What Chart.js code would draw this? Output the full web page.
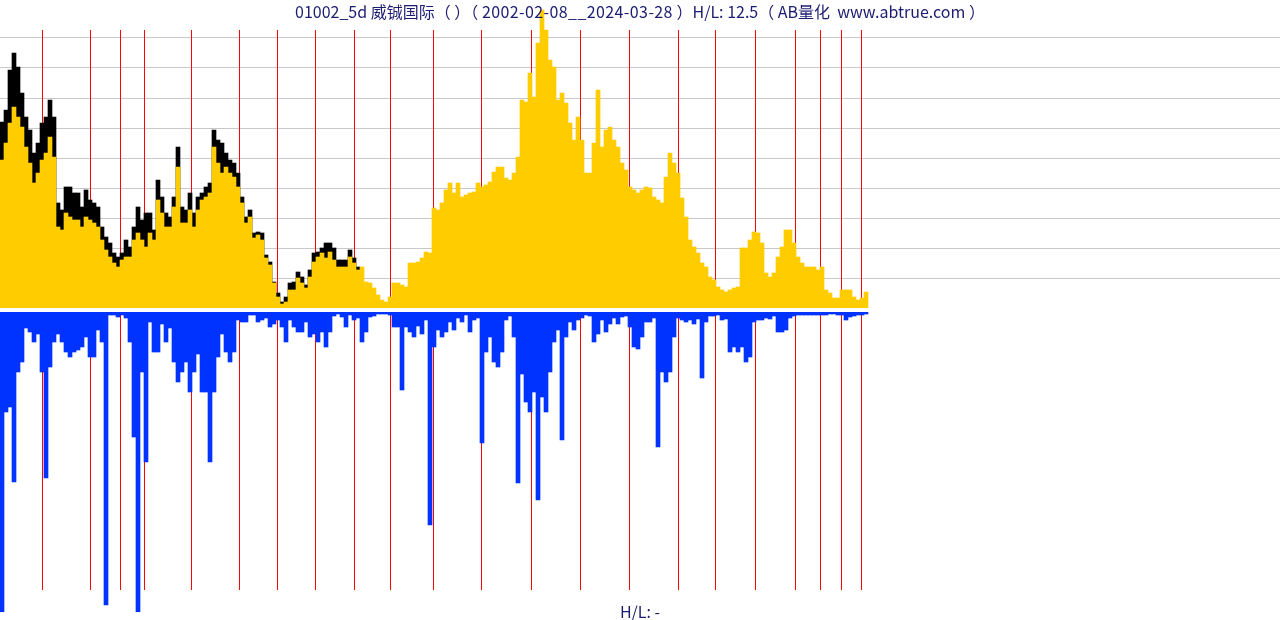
<!DOCTYPE html>
<html><head><meta charset="utf-8">
<script src="https://cdn.jsdelivr.net/npm/chart.js@4.4.1/dist/chart.umd.min.js"></script>
<style>
html,body{margin:0;padding:0;background:#fff;width:1280px;height:620px;overflow:hidden;}
#wrap{position:relative;width:1280px;height:620px;}
#top{position:absolute;left:0;top:0;}
#bot{position:absolute;left:0;top:312px;}
.t{position:absolute;left:0;width:1280px;text-align:center;font-family:"Noto Sans CJK SC","Noto Sans",sans-serif;font-size:16px;line-height:20px;color:#1c1c70;white-space:pre;}
.ls{letter-spacing:0.4px;}
</style></head>
<body><div id="wrap">
<canvas id="top" width="1280" height="308"></canvas>
<canvas id="bot" width="1280" height="300"></canvas>
<div class="t" id="title" style="top:1px;">01002_5d 威铖国际（ ）（ <span class="ls">2002-02-08__2024-03-28</span> ）H/L: 12.5（ AB量化  www.abtrue.com ）</div>
<div class="t" id="foot" style="top:601px;">H/L: -</div>
</div>
<script>
// ---- data (one value per 4px slot) ----
const CLOSE = [
148,165,185,201,191,181,161,145,125,135,
148,155,171,151,81,78,95,91,88,88,
81,91,88,85,81,68,58,51,45,41,
48,51,51,68,75,68,61,75,68,108,
95,81,81,101,141,85,85,98,81,98,
108,111,115,161,145,135,141,135,131,121,
105,85,91,70,73,68,50,43,25,11,
4,6,18,18,30,25,20,31,46,51,
55,50,56,48,41,41,41,51,45,38,
41,26,25,20,13,8,6,11,25,25,
23,21,45,45,46,50,56,55,100,98,
105,118,125,115,125,111,113,115,116,125,
121,123,126,136,141,141,130,128,135,151,
208,206,235,211,265,298,278,248,241,208,
215,205,185,168,191,168,135,135,165,218,
161,178,181,168,161,145,138,121,118,115,
118,121,120,111,108,105,131,155,145,135,
110,91,68,61,55,45,41,31,28,21,
18,16,18,20,21,60,60,68,76,75,
65,35,31,35,51,61,78,78,65,51,
45,41,41,41,38,41,18,15,10,10,
18,18,18,11,8,10,16];
const HIGH = [
186,198,238,255,241,215,191,178,155,165,
185,191,208,191,105,98,121,121,115,115,
101,118,108,105,101,81,71,65,55,51,
55,68,61,81,101,88,95,95,78,128,
111,95,91,111,161,101,98,115,95,111,
115,121,125,178,168,165,155,148,145,135,
111,91,98,75,76,75,53,46,26,15,
6,11,25,26,36,31,23,38,55,56,
60,65,65,60,48,48,48,58,50,41];
const VOLUME = [
300,100,95,170,60,50,16,20,30,22,
60,166,55,30,22,30,40,45,40,38,
35,25,45,45,18,30,293,3,3,5,
3,6,30,125,300,60,150,10,40,40,
12,30,16,50,70,60,50,80,60,42,
80,80,150,80,45,22,40,50,40,8,
10,10,3,3,10,8,6,15,12,8,
15,30,8,15,20,20,10,25,22,30,
20,35,20,4,2,5,15,3,8,6,
30,20,5,4,2,2,2,3,15,15,
78,15,20,25,14,22,8,213,35,18,
25,20,10,18,6,10,3,20,8,6,
131,40,25,50,55,40,8,4,25,171,
62,90,100,80,188,85,100,60,30,18,
128,25,10,18,8,6,3,4,30,22,
8,20,12,6,12,5,4,15,35,37,
25,10,10,6,135,60,70,60,25,6,
8,10,8,12,7,66,10,4,4,3,
8,7,40,35,40,35,50,45,10,8,
8,6,7,4,20,20,18,6,4,3,
3,3,3,3,3,3,3,2,2,3,
3,8,5,4,3,3,2];
// first bar of each calendar year (bar index on the same axis)
const YEAR_MARKS = [10,22,29.5,35.5,47.25,59.25,68.75,78.25,88,97,107.75,119.75,132.25,144.5,156.75,169,178.25,188.25,198.25,204.5,209.75,214.75];
const GRID_TICKS = [30,60,90,120,150,180,210,240,270];
const SLOTS = 320;
const LABELS = Array.from({length: SLOTS}, (_, i) => i);

const GOLD = '#ffcc00', BLUE = '#0033ff', MARK = '#ff0000';

function yearLines(fromVal, toVal) {
  return {
    id: 'yearLines',
    beforeDatasetsDraw(chart) {
      const {ctx, scales: {x, y}} = chart;
      const y0 = y.getPixelForValue(fromVal), y1 = y.getPixelForValue(toVal);
      ctx.save();
      ctx.strokeStyle = MARK; ctx.lineWidth = 1;
      YEAR_MARKS.forEach(i => {
        const px = Math.floor(x.getPixelForValue(i)) + 0.5;
        ctx.beginPath(); ctx.moveTo(px, y0); ctx.lineTo(px, y1); ctx.stroke();
      });
      ctx.restore();
    }
  };
}

const xScale = {type: 'category', display: false, offset: true};
const common = {
  responsive: false, animation: false, devicePixelRatio: 1,
  plugins: {legend: {display: false}, tooltip: {enabled: false}, title: {display: false}},
  events: []
};

new Chart(document.getElementById('top'), {
  type: 'bar',
  data: {
    labels: LABELS,
    datasets: [
      {data: CLOSE, backgroundColor: GOLD, borderWidth: 0, barPercentage: 1, categoryPercentage: 1, grouped: false, order: 0},
      {data: HIGH, backgroundColor: '#000000', borderWidth: 0, barPercentage: 1, categoryPercentage: 1, grouped: false, order: 1}
    ]
  },
  options: Object.assign({}, common, {
    layout: {padding: {top: 8, bottom: 0, left: 0, right: 0}},
    scales: {
      x: xScale,
      y: {
        min: 0, max: 300,
        afterBuildTicks: s => { s.ticks = GRID_TICKS.map(v => ({value: v})); },
        afterFit: s => { s.width = 0; },
        ticks: {display: false},
        border: {display: false},
        grid: {color: '#c8c8c8', lineWidth: 1, drawTicks: false}
      }
    }
  }),
  plugins: [yearLines(278, 0)]
});

new Chart(document.getElementById('bot'), {
  type: 'bar',
  data: {
    labels: LABELS,
    datasets: [
      {data: VOLUME, backgroundColor: BLUE, borderWidth: 0, barPercentage: 1, categoryPercentage: 1}
    ]
  },
  options: Object.assign({}, common, {
    layout: {padding: 0},
    scales: {
      x: xScale,
      y: {min: 0, max: 300, reverse: true, display: false}
    }
  }),
  plugins: [yearLines(0, 278)]
});
</script>
</body></html>
